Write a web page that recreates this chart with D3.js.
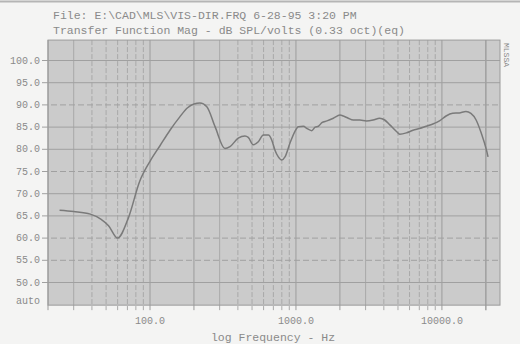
<!DOCTYPE html>
<html>
<head>
<meta charset="utf-8">
<script src="https://cdn.jsdelivr.net/npm/d3@7"></script>
<style>
  body { margin: 0; background: #f4f4f3; }
  svg { display: block; }
  text { font-family: "Liberation Mono", "DejaVu Sans Mono", monospace; fill: #8a8a8a; }
</style>
</head>
<body>
<svg id="chart" width="520" height="344"></svg>
<script>
// response curve: frequency (Hz) and level (dB)
const freqs = [24, 30, 39, 46, 52, 60, 71, 85, 100, 117, 137, 160, 180, 200, 220, 245, 279, 326, 353,
  402, 447, 471, 510, 552, 598, 647, 682, 718, 757, 798, 841, 910, 982, 1038, 1126, 1186, 1283, 1352,
  1426, 1505, 1630, 1803, 2002, 2110, 2281, 2467, 2738, 3040, 3375, 3747, 4054, 4397, 4882, 5141,
  5707, 6335, 7032, 7807, 8667, 9621, 10680, 11855, 13160, 14610, 15800, 17150, 18620, 20200, 20700];
const levels = [66.3, 66.0, 65.4, 64.3, 62.8, 60.0, 64.5, 72.8, 77.3, 80.8, 84.3, 87.3, 89.3, 90.2, 90.4, 89.6, 85.1, 80.2, 80.6,
  82.5, 83.0, 82.7, 81.0, 81.7, 83.2, 83.2, 82.1, 79.8, 78.3, 77.6, 78.3, 81.4, 84.0, 85.1, 85.2, 84.7, 84.2, 85.0,
  85.2, 86.0, 86.4, 87.0, 87.7, 87.5, 87.0, 86.6, 86.6, 86.4, 86.6, 87.0, 86.6, 85.5, 84.0, 83.4,
  83.7, 84.3, 84.7, 85.2, 85.7, 86.4, 87.5, 88.1, 88.2, 88.5, 88.1, 86.6, 83.6, 79.8, 78.3];

const yTicks = [50, 55, 60, 65, 70, 75, 80, 85, 90, 95, 100];
const yDashed = [90, 75, 60, 55];
const xLabels = [100, 1000, 10000];
const titleLines = ["File: E:\\CAD\\MLS\\VIS-DIR.FRQ 6-28-95 3:20 PM",
  "Transfer Function Mag - dB SPL/volts (0.33 oct)(eq)"];

const svg = d3.select('#chart');

const x = d3.scaleLog().domain([20, 25000]).range([48, 500]);
const y = d3.scaleLinear().domain([50, 100]).range([282.5, 60.5]);
const yBottom = 44.9, yTop = 104.6;

// thin rule along the top of the page
svg.append('line')
  .attr('x1', 0).attr('x2', 520).attr('y1', 1.5).attr('y2', 1.5)
  .attr('stroke', '#b5b5b5').attr('stroke-width', 2);

// titles
svg.selectAll('.title')
  .data(titleLines)
  .join('text')
  .attr('class', 'title')
  .attr('x', 53)
  .attr('y', (d, i) => 19 + i * 14.5)
  .style('font-size', '11.5px')
  .text(d => d);

// plot background
svg.append('rect')
  .attr('x', x(20)).attr('y', y(yTop))
  .attr('width', x(25000) - x(20))
  .attr('height', y(yBottom) - y(yTop))
  .attr('fill', '#cbcbcb');

// vertical grid, every 1..9 of each decade
const gridFreqs = [];
for (let dec = 10; dec <= 10000; dec *= 10) {
  for (let m = 1; m <= 9; m++) {
    const f = dec * m;
    if (f >= 20 && f <= 20000) gridFreqs.push({ f: f, m: m });
  }
}

const grid = svg.append('g');
grid.selectAll('.vgrid')
  .data(gridFreqs)
  .join('line')
  .attr('x1', d => x(d.f)).attr('x2', d => x(d.f))
  .attr('y1', y(yTop)).attr('y2', y(yBottom) + 5)
  .attr('stroke', d => (d.m <= 2 || d.f === 20000) ? '#9c9c9c' : '#a9a9a9')
  .attr('stroke-width', d => d.f === 20000 ? 1.4 : 1)
  .attr('stroke-dasharray', d => (d.m <= 3 || d.f === 20000) ? null : '5,2');

grid.selectAll('.hgrid')
  .data(yTicks)
  .join('line')
  .attr('x1', x(20) - 6).attr('x2', x(25000))
  .attr('y1', d => y(d)).attr('y2', d => y(d))
  .attr('stroke', '#a0a0a0')
  .attr('stroke-dasharray', d => yDashed.includes(d) ? '6,3' : null);

// frame
svg.append('rect')
  .attr('x', x(20)).attr('y', y(yTop))
  .attr('width', x(25000) - x(20))
  .attr('height', y(yBottom) - y(yTop))
  .attr('fill', 'none')
  .attr('stroke', '#9a9a9a');

// y labels
svg.selectAll('.ylab')
  .data(yTicks)
  .join('text')
  .attr('x', 40)
  .attr('y', d => y(d) + 3)
  .attr('text-anchor', 'end')
  .style('font-size', '10px')
  .text(d => d3.format('.1f')(d));

svg.append('text')
  .attr('x', 40).attr('y', y(yBottom) - 1)
  .attr('text-anchor', 'end')
  .style('font-size', '10px')
  .text('auto');

// x labels
svg.selectAll('.xlab')
  .data(xLabels)
  .join('text')
  .attr('x', d => x(d))
  .attr('y', 324)
  .attr('text-anchor', 'middle')
  .style('font-size', '10px')
  .text(d => d3.format('.1f')(d));

svg.append('text')
  .attr('x', 273).attr('y', 341)
  .attr('text-anchor', 'middle')
  .style('font-size', '11.5px')
  .text('log Frequency - Hz');

// small tag on the right edge
svg.append('text')
  .attr('transform', 'translate(504,43) rotate(90)')
  .style('font-size', '8px')
  .text('MLSSA');

// response curve
const line = d3.line()
  .x(d => x(d[0]))
  .y(d => y(d[1]))
  .curve(d3.curveMonotoneX);

svg.append('path')
  .datum(d3.zip(freqs, levels))
  .attr('d', line)
  .attr('fill', 'none')
  .attr('stroke', '#7a7a7a')
  .attr('stroke-width', 1.5);
</script>
</body>
</html>
